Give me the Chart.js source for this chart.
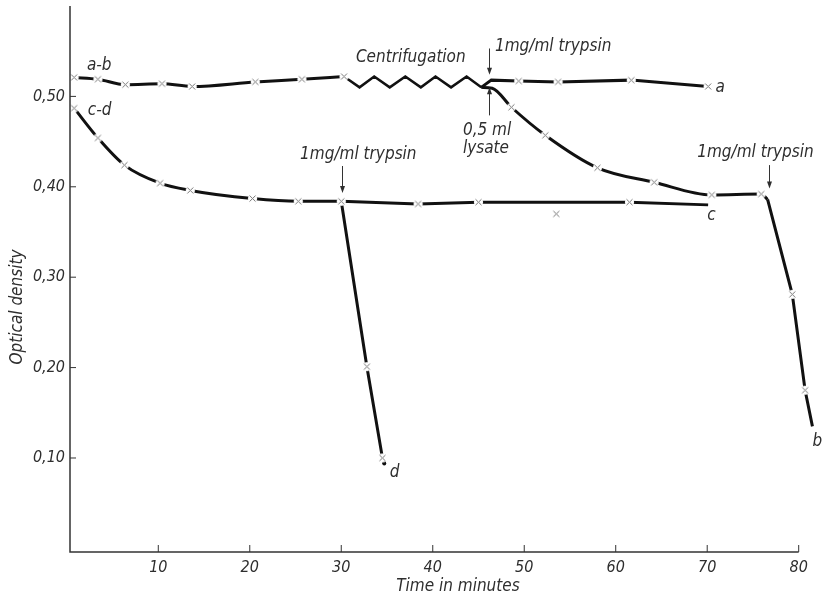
<!DOCTYPE html>
<html>
<head>
<meta charset="utf-8">
<script src="https://cdn.jsdelivr.net/npm/chart.js@4.4.1/dist/chart.umd.min.js"></script>
<style>
  html, body { margin: 0; padding: 0; background: #fff; }
  #wrap { width: 823px; height: 601px; }
</style>
</head>
<body>
<div id="wrap"><canvas id="myChart" width="823" height="601"></canvas></div>
<script>
// tick labels
var xTicks = [10, 20, 30, 40, 50, 60, 70, 80];
var yTicks = [0.1, 0.2, 0.3, 0.4, 0.5];

// curve a-b before the centrifugation
var abTime = [0.8, 3.4, 6.4, 10.4, 13.7, 20.6, 25.7, 30.3];
var abOD = [0.521, 0.519, 0.513, 0.514, 0.511, 0.516, 0.519, 0.522];
// centrifugation (zigzag)
var centrifTime = [30.3, 32.0, 33.6, 35.3, 37.0, 38.7, 40.3, 42.0, 43.7, 45.3];
var centrifOD = [0.522, 0.510, 0.522, 0.510, 0.522, 0.510, 0.522, 0.510, 0.522, 0.510];
// a : 1mg/ml trypsin
var aTime = [45.3, 46.4, 49.4, 53.7, 61.7, 70.1];
var aOD = [0.510, 0.518, 0.517, 0.516, 0.518, 0.511];
// b : 0,5 ml lysate, then trypsin
var bTime = [45.3, 46.5, 48.6, 52.3, 58.0, 64.2, 70.5, 75.9, 76.6];
var bOD = [0.510, 0.509, 0.488, 0.457, 0.421, 0.405, 0.391, 0.392, 0.386];
var bDropTime = [76.6, 79.3, 80.7, 81.5];
var bDropOD = [0.386, 0.281, 0.175, 0.135];
// curve c-d
var cdTime = [0.8, 3.4, 6.3, 10.2, 13.5, 20.3, 25.3, 30.0];
var cdOD = [0.487, 0.454, 0.424, 0.404, 0.396, 0.387, 0.384, 0.384];
var cTime = [30.0, 38.4, 45.0, 61.5, 70.1];
var cOD = [0.384, 0.381, 0.383, 0.383, 0.380];
var dTime = [30.0, 32.8, 34.5, 34.7];
var dOD = [0.384, 0.201, 0.100, 0.094];
// measured points (crosses)
var crossTime = [0.8, 3.4, 6.4, 10.4, 13.7, 20.6, 25.7, 30.3,
                 49.4, 53.7, 61.7, 70.1,
                 48.6, 52.3, 58.0, 64.2, 70.5, 75.9, 79.3, 80.7,
                 0.8, 3.4, 6.3, 10.2, 13.5, 20.3, 25.3, 30.0,
                 38.4, 45.0, 53.5, 61.5,
                 32.8, 34.5];
var crossOD = [0.521, 0.519, 0.513, 0.514, 0.511, 0.516, 0.519, 0.522,
               0.517, 0.516, 0.518, 0.511,
               0.488, 0.457, 0.421, 0.405, 0.391, 0.392, 0.281, 0.175,
               0.487, 0.454, 0.424, 0.404, 0.396, 0.387, 0.384, 0.384,
               0.381, 0.383, 0.370, 0.383,
               0.201, 0.100];

// text on the plot, placed in data units
var notes = [
    { text: 'a-b', t: 2.2, od: 0.529 },
    { text: 'c-d', t: 2.3, od: 0.479 },
    { text: 'Centrifugation', t: 31.6, od: 0.538 },
    { text: '1mg/ml trypsin', t: 46.8, od: 0.550 },
    { text: '0,5 ml', t: 43.3, od: 0.457 },
    { text: 'lysate', t: 43.3, od: 0.437 },
    { text: '1mg/ml trypsin', t: 25.5, od: 0.431 },
    { text: '1mg/ml trypsin', t: 68.9, od: 0.433 },
    { text: 'a', t: 70.9, od: 0.505 },
    { text: 'b', t: 81.5, od: 0.113 },
    { text: 'c', t: 70.0, od: 0.363 },
    { text: 'd', t: 35.3, od: 0.079 }
];
var arrows = [
    { t: 46.2, from: 0.553, to: 0.524 },
    { t: 46.1, from: 0.479, to: 0.510 },
    { t: 30.1, from: 0.423, to: 0.393 },
    { t: 76.7, from: 0.424, to: 0.398 }
];

var FONT = '"DejaVu Sans Condensed", "DejaVu Sans", sans-serif';
var INK = '#111';
var TEXT = '#2e2e2e';
var X_END = 80; // the drawn time axis stops here, curve b runs past it

function pts(xs, ys) {
    return xs.map(function (x, i) { return { x: x, y: ys[i] }; });
}

// cross with a white halo, so the curve is broken round each point
var crossImg = (function () {
    var c = document.createElement('canvas');
    c.width = 11; c.height = 11;
    var g = c.getContext('2d');
    g.fillStyle = '#fff';
    g.beginPath(); g.arc(5.5, 5.5, 4.6, 0, Math.PI * 2); g.fill();
    g.strokeStyle = '#777'; g.lineWidth = 1;
    g.beginPath();
    g.moveTo(2.5, 2.5); g.lineTo(8.5, 8.5);
    g.moveTo(8.5, 2.5); g.lineTo(2.5, 8.5);
    g.stroke();
    return c;
})();

function curve(xs, ys, smooth, width) {
    return {
        data: pts(xs, ys),
        showLine: true,
        borderColor: INK,
        borderWidth: width || 3,
        pointRadius: 0,
        tension: smooth ? 0.4 : 0,
        cubicInterpolationMode: smooth ? 'monotone' : 'default',
        borderJoinStyle: 'miter',
        clip: false,
        order: 2
    };
}

var dLine = curve(dTime, dOD, false);
dLine.pointRadius = function (ctx) { return ctx.dataIndex === dTime.length - 1 ? 2 : 0; };
dLine.pointBackgroundColor = INK;
dLine.pointBorderWidth = 0;

function noPad(s) {
    s.paddingTop = 0; s.paddingBottom = 0; s.paddingLeft = 0; s.paddingRight = 0;
}

var decor = {
    id: 'decor',
    afterDatasetsDraw: function (chart) {
        var ctx = chart.ctx, x = chart.scales.x, y = chart.scales.y, a = chart.chartArea;
        var xEnd = x.getPixelForValue(X_END);
        ctx.save();
        // axes with inward ticks
        ctx.strokeStyle = '#333';
        ctx.lineWidth = 1.5;
        ctx.beginPath();
        ctx.moveTo(a.left, a.top); ctx.lineTo(a.left, a.bottom); ctx.lineTo(xEnd, a.bottom);
        ctx.stroke();
        ctx.lineWidth = 1;
        ctx.beginPath();
        xTicks.forEach(function (v) {
            var px = x.getPixelForValue(v);
            ctx.moveTo(px, a.bottom); ctx.lineTo(px, a.bottom - 7);
        });
        yTicks.forEach(function (v) {
            var py = y.getPixelForValue(v);
            ctx.moveTo(a.left, py); ctx.lineTo(a.left + 6, py);
        });
        ctx.stroke();

        // notes
        ctx.fillStyle = TEXT;
        ctx.font = 'italic 17px ' + FONT;
        ctx.textAlign = 'left';
        ctx.textBaseline = 'alphabetic';
        notes.forEach(function (n) {
            ctx.fillText(n.text, x.getPixelForValue(n.t), y.getPixelForValue(n.od));
        });

        // arrows
        ctx.strokeStyle = '#333';
        ctx.lineWidth = 1;
        arrows.forEach(function (r) {
            var px = Math.round(x.getPixelForValue(r.t)) + 0.5;
            var y0 = y.getPixelForValue(r.from), y1 = y.getPixelForValue(r.to);
            var dir = y1 > y0 ? 1 : -1;
            ctx.beginPath(); ctx.moveTo(px, y0); ctx.lineTo(px, y1 - dir * 5); ctx.stroke();
            ctx.beginPath();
            ctx.moveTo(px, y1); ctx.lineTo(px - 2.5, y1 - dir * 7); ctx.lineTo(px + 2.5, y1 - dir * 7);
            ctx.closePath(); ctx.fill();
        });

        // axis titles
        ctx.textAlign = 'center';
        ctx.fillText('Time in minutes', x.getPixelForValue(42.75), a.bottom + 39);
        ctx.translate(18, y.getPixelForValue(0.267));
        ctx.rotate(-Math.PI / 2);
        ctx.textBaseline = 'middle';
        ctx.fillText('Optical density', 0, 0);
        ctx.restore();
    }
};

new Chart("myChart", {
    type: "scatter",
    data: {
        datasets: [
            {
                data: pts(crossTime, crossOD),
                pointStyle: crossImg,
                pointRadius: 5,
                clip: false,
                order: 1
            },
            curve(abTime, abOD, true),
            curve(centrifTime, centrifOD, false, 2.5),
            curve(aTime, aOD, false),
            curve(bTime, bOD, true),
            curve(bDropTime, bDropOD, false),
            curve(cdTime, cdOD, true),
            curve(cTime, cOD, false),
            dLine
        ]
    },
    options: {
        responsive: false,
        animation: false,
        layout: { padding: { top: 6, right: 6, bottom: 0, left: 0 } },
        plugins: { legend: { display: false }, tooltip: { enabled: false } },
        scales: {
            x: {
                type: 'linear',
                min: 0.35,
                max: 82,
                afterBuildTicks: function (s) { s.ticks = xTicks.map(function (v) { return { value: v }; }); },
                afterFit: function (s) { s.height = 49; noPad(s); },
                grid: { display: false, drawTicks: false },
                border: { display: false },
                ticks: {
                    padding: 6,
                    color: TEXT,
                    font: { family: FONT, size: 16, style: 'italic' },
                    maxRotation: 0
                }
            },
            y: {
                min: -0.004,
                max: 0.6,
                afterBuildTicks: function (s) { s.ticks = yTicks.map(function (v) { return { value: v }; }); },
                afterFit: function (s) { s.width = 70; noPad(s); },
                grid: { display: false, drawTicks: false },
                border: { display: false },
                ticks: {
                    padding: 5,
                    color: TEXT,
                    font: { family: FONT, size: 16, style: 'italic' },
                    callback: function (v) { return v.toFixed(2).replace('.', ','); }
                }
            }
        }
    },
    plugins: [decor]
});
</script>
</body>
</html>
